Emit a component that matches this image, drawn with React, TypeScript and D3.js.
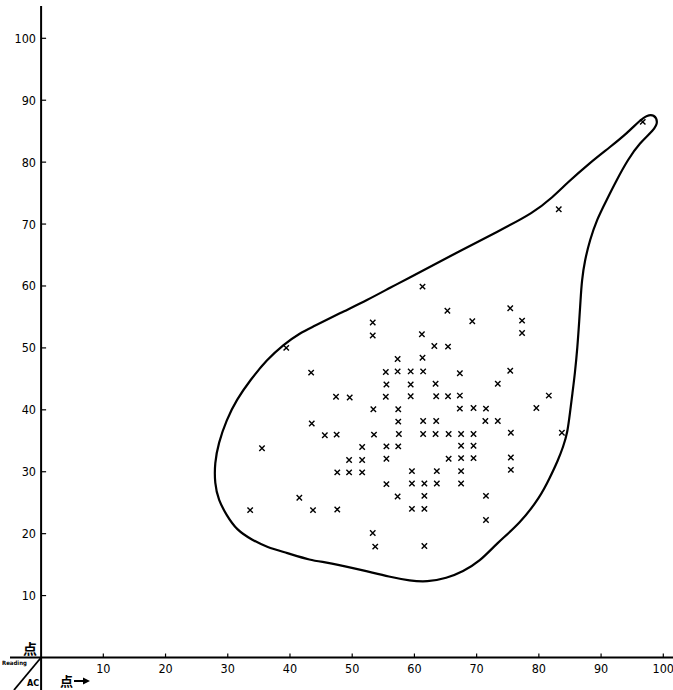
import React from 'react';
import * as d3 from 'd3';

// scatter: x score (点, horizontal) and y score (点, vertical)
const scoreX = [
  96.7, 83.2, 61.3, 65.3, 75.4, 69.3, 77.3, 53.3, 53.3, 61.2, 77.3, 39.4, 63.2, 65.4, 57.3, 61.3,
  43.4, 55.4, 57.3, 59.4, 61.4, 67.3, 75.4, 55.5, 59.4, 63.4, 73.4, 47.4, 49.6, 55.4, 59.4, 63.5,
  65.4, 67.3, 81.6, 53.4, 57.4, 67.3, 69.5, 71.5, 79.6, 43.5, 57.4, 61.4, 63.5, 71.4, 73.4, 45.6,
  47.5, 53.5, 57.5, 61.4, 63.4, 65.5, 67.5, 69.5, 75.5, 83.7, 35.5, 51.6, 55.5, 57.4, 67.5, 69.5,
  49.5, 51.6, 55.5, 65.5, 67.5, 69.5, 75.5, 47.6, 49.5, 51.6, 59.6, 63.6, 67.5, 75.5, 55.5, 59.6,
  61.6, 63.6, 67.5, 41.5, 57.3, 61.6, 71.5, 33.6, 43.7, 47.6, 59.6, 61.6, 71.5, 53.3, 53.7, 61.6,
];
const scoreY = [
  86.5, 72.4, 59.9, 56.0, 56.4, 54.3, 54.4, 54.1, 52.0, 52.2, 52.4, 50.0, 50.3, 50.2, 48.2, 48.4,
  46.0, 46.1, 46.2, 46.2, 46.2, 45.9, 46.3, 44.1, 44.1, 44.2, 44.2, 42.1, 42.0, 42.1, 42.2, 42.2,
  42.2, 42.3, 42.3, 40.1, 40.1, 40.2, 40.3, 40.2, 40.3, 37.8, 38.1, 38.2, 38.2, 38.2, 38.2, 35.9,
  36.0, 36.0, 36.1, 36.1, 36.1, 36.1, 36.1, 36.1, 36.3, 36.3, 33.8, 34.0, 34.1, 34.1, 34.2, 34.2,
  31.9, 31.9, 32.1, 32.1, 32.2, 32.2, 32.3, 29.9, 29.9, 29.9, 30.1, 30.1, 30.1, 30.3, 28.0, 28.1,
  28.1, 28.1, 28.1, 25.8, 26.0, 26.1, 26.1, 23.8, 23.8, 23.9, 24.0, 24.0, 22.2, 20.1, 17.9, 18.0,
];

// hand-drawn envelope around the points (closed, clockwise from the tip)
const outlineX = [
  98.5, 99.2, 98.5, 96.2, 94.3, 92.5, 90.9, 89.3, 88.2, 87.4, 86.9, 86.7, 86.5, 86.2, 85.8, 85.4,
  85.0, 84.6, 83.9, 83.1, 81.8, 80.2, 77.0, 73.2, 70.5, 67.8, 65.2, 62.0, 59.3, 56.1, 51.7, 46.4,
  43.2, 39.5, 36.3, 33.9, 31.4, 29.8, 28.5, 27.9, 27.9, 28.5, 29.8, 31.4, 33.6, 36.3, 38.9, 41.6,
  43.7, 48.0, 52.4, 56.6, 58.2, 65.7, 73.8, 79.1, 82.3, 84.5, 88.2, 91.4, 94.2, 96.2, 97.4,
];
const outlineY = [
  87.7, 86.5, 85.2, 83.1, 80.4, 77.1, 73.9, 70.7, 67.4, 64.2, 60.9, 57.7, 54.5, 50.1, 45.9, 42.7,
  39.5, 36.3, 34.0, 31.9, 29.1, 25.9, 21.7, 18.4, 15.5, 13.9, 12.8, 12.2, 12.4, 13.0, 14.1, 15.3,
  15.7, 16.9, 17.8, 19.0, 20.6, 23.0, 25.4, 28.1, 31.4, 34.6, 38.4, 41.6, 44.8, 48.1, 50.5, 52.4,
  53.4, 55.6, 57.7, 60.0, 60.8, 64.8, 69.0, 71.8, 74.4, 76.6, 79.9, 82.4, 84.7, 86.7, 87.6,
];

const xTicks = [10, 20, 30, 40, 50, 60, 70, 80, 90, 100];
const yTicks = [10, 20, 30, 40, 50, 60, 70, 80, 90, 100];

const W = 673;
const H = 690;
const numFont = '"DejaVu Sans Condensed", "Liberation Sans Narrow", sans-serif';
const cjkFont = '"Noto Sans CJK JP", "Noto Sans CJK SC", sans-serif';

export default function App() {
  const x = d3.scaleLinear().domain([0, 100]).range([41.1, 663.3]);
  const y = d3.scaleLinear().domain([0, 100]).range([657.5, 38.3]);

  // B-spline smooths the wobble of the hand trace
  const outline = d3
    .line<number>()
    .x((i) => x(outlineX[i]))
    .y((i) => y(outlineY[i]))
    .curve(d3.curveBasisClosed);

  const x0 = x(0);
  const y0 = y(0);
  const c = 2.7; // half size of the × marks

  return (
    <>
      <style>{'body{margin:0}'}</style>
      <svg width={W} height={H} style={{ display: 'block', background: '#fff' }}>
        {/* axes */}
        <line x1={10} x2={W} y1={y0} y2={y0} stroke="#000" strokeWidth={2} />
        <line x1={x0} x2={x0} y1={6} y2={H} stroke="#000" strokeWidth={2} />
        <line x1={x0} y1={y0} x2={14} y2={H} stroke="#000" strokeWidth={1.8} />

        {xTicks.map((t) => (
          <g key={'x' + t}>
            <line x1={x(t)} x2={x(t)} y1={y0} y2={y0 - 4} stroke="#000" strokeWidth={1.2} />
            <text
              x={x(t)}
              y={673}
              textAnchor="middle"
              fontFamily={numFont}
              fontSize={12.5}
              fill="#000"
            >
              {t}
            </text>
          </g>
        ))}

        {yTicks.map((t) => (
          <g key={'y' + t}>
            <line x1={x0} x2={x0 + 5} y1={y(t)} y2={y(t)} stroke="#000" strokeWidth={1.2} />
            <text
              x={36}
              y={y(t)}
              dy="0.36em"
              textAnchor="end"
              fontFamily={numFont}
              fontSize={12.5}
              fill="#000"
            >
              {t}
            </text>
          </g>
        ))}

        {/* corner labels */}
        <text x={30} y={654} textAnchor="middle" fontFamily={cjkFont} fontWeight="bold" fontSize={14} fill="#000">
          点
        </text>
        <text x={2} y={665} fontFamily={numFont} fontWeight="bold" fontSize={6} fill="#000">
          Reading
        </text>
        <text x={27} y={686} fontFamily={numFont} fontWeight="bold" fontSize={9} fill="#000">
          AC
        </text>
        <text x={60} y={686} fontFamily={cjkFont} fontWeight="bold" fontSize={13} fill="#000">
          点
        </text>
        <line x1={74} x2={84} y1={681} y2={681} stroke="#000" strokeWidth={2} />
        <path d="M83,677.5 L90,681 L83,684.5 Z" fill="#000" />

        {/* envelope */}
        <path
          d={outline(d3.range(outlineX.length)) ?? ''}
          fill="none"
          stroke="#000"
          strokeWidth={2.2}
        />

        {/* points */}
        {scoreX.map((v, i) => {
          const px = x(v);
          const py = y(scoreY[i]);
          return (
            <path
              key={i}
              d={`M${px - c},${py - c}L${px + c},${py + c}M${px - c},${py + c}L${px + c},${py - c}`}
              stroke="#000"
              strokeWidth={1.4}
            />
          );
        })}
      </svg>
    </>
  );
}
